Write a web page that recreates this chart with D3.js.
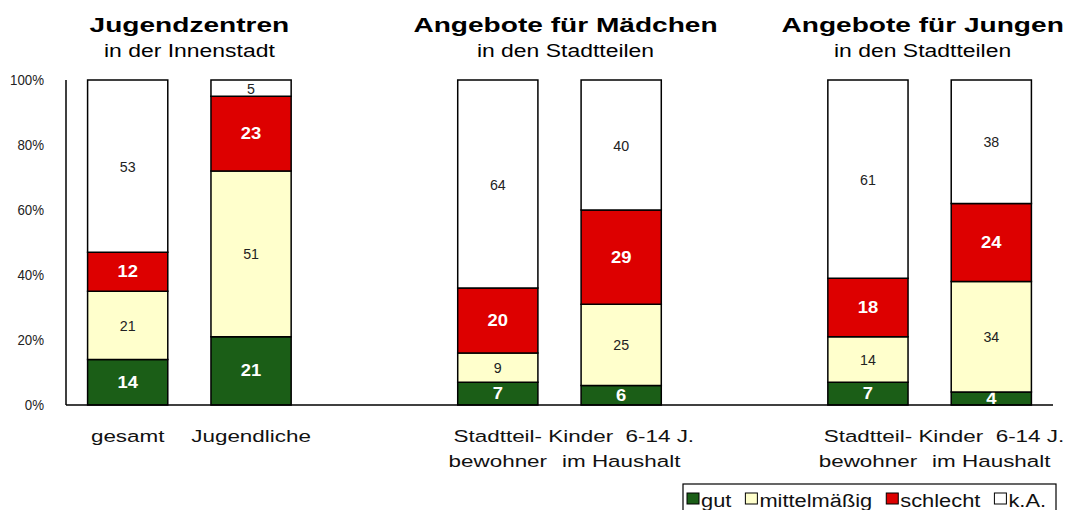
<!DOCTYPE html>
<html>
<head>
<meta charset="utf-8">
<script src="https://cdn.jsdelivr.net/npm/d3@7"></script>
<style>
  body { margin: 0; background: #fff; }
  text { font-family: "Liberation Sans", Arial, sans-serif; }
</style>
</head>
<body>
<script>
// data (percent of answers)
const categories = ["gesamt", "Jugendliche", "Stadtteilbewohner M", "Kinder M", "Stadtteilbewohner J", "Kinder J"];
const categoryLabels = [["gesamt"], ["Jugendliche"], ["Stadtteil-", "bewohner"], ["Kinder  6-14 J.", "im Haushalt"], ["Stadtteil-", "bewohner"], ["Kinder  6-14 J.", "im Haushalt"]];
const gut = [14, 21, 7, 6, 7, 4];
const mittelmaessig = [21, 51, 9, 25, 14, 34];
const schlecht = [12, 23, 20, 29, 18, 24];
const keineAngabe = [53, 5, 64, 40, 61, 38];
const seriesNames = ["gut", "mittelmäßig", "schlecht", "k.A."];
const groupTitles = ["Jugendzentren", "Angebote für Mädchen", "Angebote für Jungen"];
const groupSubtitles = ["in der Innenstadt", "in den Stadtteilen", "in den Stadtteilen"];
const yTicks = [0, 20, 40, 60, 80, 100];

const colors = ["#1b5e17", "#ffffcc", "#dd0000", "#ffffff"];
const labelWhite = [true, false, true, false];

const width = 1068, height = 510;

const svg = d3.select("body").append("svg")
  .attr("width", width)
  .attr("height", height);

// slots: two bars per group, one empty slot between groups
const slots = [];
categories.forEach((c, i) => {
  slots.push(c);
  if (i % 2 == 1 && i < categories.length - 1) slots.push("gap" + i);
});

const x = d3.scaleBand()
  .domain(slots)
  .range([66, 1053])
  .paddingInner(0.35)
  .paddingOuter(0.175);

const y = d3.scaleLinear().domain([0, 100]).range([405, 80]);

const table = categories.map((c, i) => ({
  cat: c, gut: gut[i], mittel: mittelmaessig[i], schlecht: schlecht[i], ka: keineAngabe[i]
}));
const keys = ["gut", "mittel", "schlecht", "ka"];
const stacked = d3.stack().keys(keys)(table);

// the original chart is stretched sideways, so text gets a horizontal scale
function stretched(sel, px, py, s) {
  return sel.attr("transform", `translate(${px},${py}) scale(${s},1)`);
}

// bars
const layers = svg.selectAll("g.layer")
  .data(stacked)
  .enter().append("g")
  .attr("class", "layer");

layers.selectAll("rect")
  .data(d => d)
  .enter().append("rect")
  .attr("x", d => x(d.data.cat))
  .attr("width", x.bandwidth())
  .attr("y", d => y(d[1]))
  .attr("height", d => y(d[0]) - y(d[1]))
  .attr("fill", function() { return colors[keys.indexOf(d3.select(this.parentNode).datum().key)]; })
  .attr("stroke", "#000")
  .attr("stroke-width", 1.5);

// value labels
layers.each(function(layer, li) {
  d3.select(this).selectAll("text")
    .data(layer)
    .enter().append("text")
    .attr("text-anchor", "middle")
    .attr("font-size", labelWhite[li] ? 16 : 15)
    .attr("font-weight", labelWhite[li] ? "bold" : "normal")
    .attr("fill", labelWhite[li] ? "#fff" : "#222")
    .each(function(d) {
      const cx = x(d.data.cat) + x.bandwidth() / 2;
      const cy = (y(d[0]) + y(d[1])) / 2 + 5.5;
      stretched(d3.select(this), cx, cy, labelWhite[li] ? 1.15 : 0.95);
    })
    .text(d => d[1] - d[0]);
});

// axis line, baseline and tick labels
svg.append("line")
  .attr("x1", 66).attr("x2", 66)
  .attr("y1", y(100)).attr("y2", y(0))
  .attr("stroke", "#000").attr("stroke-width", 1.5);
svg.append("line")
  .attr("x1", 66).attr("x2", 1053)
  .attr("y1", y(0)).attr("y2", y(0))
  .attr("stroke", "#000").attr("stroke-width", 1.5);

svg.selectAll("text.tick")
  .data(yTicks)
  .enter().append("text")
  .attr("class", "tick")
  .attr("text-anchor", "end")
  .attr("font-size", 14)
  .attr("fill", "#222")
  .each(function(d) { stretched(d3.select(this), 44, y(d) + 5, 0.95); })
  .text(d => d + "%");

// category labels
categoryLabels.forEach((lines, i) => {
  const cx = x(categories[i]) + x.bandwidth() / 2;
  lines.forEach((line, j) => {
    svg.append("text")
      .attr("text-anchor", "middle")
      .attr("font-size", 17)
      .attr("fill", "#111")
      .style("white-space", "pre")
      .call(stretched, cx, 442 + j * 25, 1.32)
      .text(line);
  });
});

// group titles
const titleNudge = [0, 6, -7];
groupTitles.forEach((t, g) => {
  const cx = (x(categories[2 * g]) + x(categories[2 * g + 1]) + x.bandwidth()) / 2 + titleNudge[g];
  svg.append("text")
    .attr("text-anchor", "middle")
    .attr("font-size", 20.5)
    .attr("font-weight", "bold")
    .attr("fill", "#000")
    .call(stretched, cx, 32, 1.37)
    .text(t);
  svg.append("text")
    .attr("text-anchor", "middle")
    .attr("font-size", 18.5)
    .attr("fill", "#000")
    .call(stretched, cx, 57, 1.24)
    .text(groupSubtitles[g]);
});

// legend
const legend = svg.append("g");
legend.append("rect")
  .attr("x", 683).attr("y", 484)
  .attr("width", 373).attr("height", 40)
  .attr("fill", "#fff").attr("stroke", "#000").attr("stroke-width", 1.2);

let lx = 687;
seriesNames.forEach((name, i) => {
  legend.append("rect")
    .attr("x", lx).attr("y", 493)
    .attr("width", 12).attr("height", 11)
    .attr("fill", colors[i]).attr("stroke", "#000");
  const t = legend.append("text")
    .attr("font-size", 19)
    .attr("fill", "#111")
    .call(stretched, lx + 14, 507, 1.15)
    .text(name);
  lx += 14 + t.node().getComputedTextLength() * 1.15 + 14;
});
</script>
</body>
</html>
